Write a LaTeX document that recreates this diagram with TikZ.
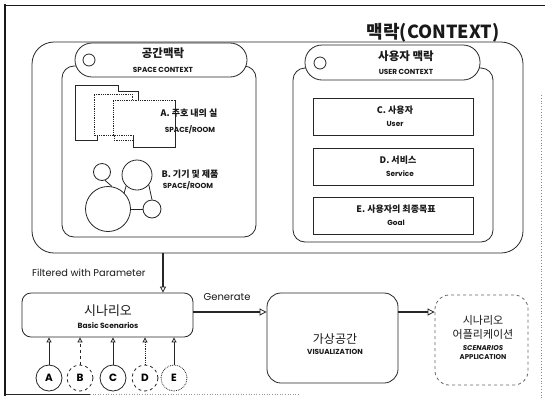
\documentclass[tikz,border=0pt]{standalone}
\usepackage{fontspec}
\setmainfont{Poppins}
\newfontfamily\kr{Noto Sans CJK KR}
\usetikzlibrary{arrows.meta}
\begin{document}
\begin{tikzpicture}[x=1pt,y=-1pt,
  ln/.style={draw=black!85, line width=0.8pt},
  rbox/.style={ln, fill=white, rounded corners=#1, inner sep=0pt},
  sqbox/.style={ln, fill=white, inner sep=0pt},
  txt/.style={inner sep=0pt, text=black!90},
  krh/.style={txt, font=\kr\bfseries\fontsize{11.5}{12}\selectfont},
  krm/.style={txt, font=\kr\bfseries\fontsize{9}{10}\selectfont},
  ensm/.style={txt, font=\bfseries\fontsize{7.3}{8}\selectfont},
  bub/.style={ln, circle, inner sep=0pt, minimum size=#1},
  lt/.style={ln, circle, inner sep=0pt, minimum size=26pt, font=\bfseries\fontsize{10.5}{12}\selectfont},
  arr/.style={ln, -{Triangle[open, length=5pt, width=5pt]}},
  bigarr/.style={draw=black!85, line width=1.6pt, -{Triangle[open, length=7pt, width=7pt, line width=0.8pt]}}
]
\useasboundingbox (0,0) rectangle (545,405);
\fill[white] (0,0) rectangle (545,405);

% frame
\draw[line width=2.2pt, black!90] (5,4) -- (5,396);
\draw[line width=1pt, black!90] (4,5) -- (545,5);
\draw[line width=1pt, black!85] (5,394) -- (90,394);
\draw[line width=0.6pt, black!40, dotted] (90,394) -- (300,394);
\draw[line width=0.8pt, black!45, dotted] (541,95) -- (541,400);

% title
\node[txt, font=\kr\bfseries\fontsize{18}{20}\selectfont] (title) at (433,33) {맥락(CONTEXT)};

% big context box
\node[rbox=22, minimum width=491, minimum height=211] (ctx) at (277.5,147.5) {};

% space context
\node[rbox=12, minimum width=194, minimum height=171] (sbox) at (159,151.5) {};
\node[rbox=17, minimum width=172, minimum height=34] (spill) at (161,60) {};
\node[bub=12] (scirc) at (89,60) {};
\node[krh] (stitle) at (163,53) {공간맥락};
\node[ensm] (ssub) at (163,70) {SPACE CONTEXT};

% user context
\node[rbox=12, minimum width=200, minimum height=174] (ubox) at (393,155) {};
\node[rbox=17, minimum width=175, minimum height=35] (upill) at (392.5,62.5) {};
\node[bub=12] (ucirc) at (320,63) {};
\node[krh] (utitle) at (406,56) {사용자 맥락};
\node[ensm] (usub) at (406,72) {USER CONTEXT};

% rooms
\draw[ln, fill=white] (75,85) -- (118,85) -- (118,91) -- (138,91) -- (138,133) -- (97,133) -- (97,140) -- (75,140) -- cycle;
\draw[ln, densely dotted, fill=white] (94,94) -- (132,94) -- (132,100) -- (156,100) -- (156,140) -- (114,140) -- (114,135) -- (94,135) -- cycle;
\draw[ln, densely dotted, fill=white] (113,100) -- (175,100) -- (175,147) -- (133,147) -- (133,135) -- (113,135) -- cycle;
\draw[ln] (175,100) -- (175,147) -- (133,147) -- (133,135);
\node[krm] (la) at (189,113) {A. 주호 내의 실};
\node[ensm] (lar) at (190,130) {SPACE/ROOM};

% bubbles
\node[bub=17] (b1) at (102,172) {};
\node[bub=30] (b2) at (137,175) {};
\node[bub=45] (b3) at (108,209) {};
\node[bub=18] (b4) at (152,209) {};
\draw[ln] (b1.-70) -- (b3.80);
\draw[ln] (b2.-135) -- (b3.45);
\draw[ln] (b2.-40) -- (b4.north);
\draw[ln] (b3.east) -- (b4.west);
\node[krm] (lb) at (190,174) {B. 기기 및 제품};
\node[ensm] (lbr) at (188,186) {SPACE/ROOM};

% user items
\node[sqbox, minimum width=160, minimum height=37] (cb) at (393,116.5) {};
\node[krm] at (395,110) {C. 사용자};
\node[ensm] at (395,124) {User};
\node[sqbox, minimum width=160, minimum height=37] (db) at (393,166.5) {};
\node[krm] at (398,160) {D. 서비스};
\node[ensm] at (400,174) {Service};
\node[sqbox, minimum width=160, minimum height=37] (eb) at (393,215.5) {};
\node[krm] at (396,209) {E. 사용자의 최종목표};
\node[ensm] at (396,223) {Goal};

% lower section
\node[rbox=9, minimum width=171, minimum height=44] (scen) at (107.5,315) {};
\node[txt, font=\kr\fontsize{13}{14}\selectfont] at (108,311) {시나리오};
\node[txt, font=\bfseries\fontsize{7.5}{8}\selectfont] at (108,326) {Basic Scenarios};

\node[rbox=14, minimum width=131, minimum height=90] (virt) at (332.5,338) {};
\node[txt, font=\kr\fontsize{12}{13}\selectfont] at (335,339) {가상공간};
\node[txt, font=\bfseries\fontsize{7.3}{8}\selectfont] at (335,352) {VISUALIZATION};

\node[rbox=14, dashed, draw=black!60, minimum width=93, minimum height=90] (app) at (481.5,340) {};
\node[txt, font=\kr\fontsize{11}{12}\selectfont] at (483,320) {시나리오};
\node[txt, font=\kr\fontsize{11}{12}\selectfont] at (483,334) {어플리케이션};
\node[txt, font=\bfseries\itshape\fontsize{7}{8}\selectfont] at (483,348) {SCENARIOS};
\node[txt, font=\bfseries\fontsize{7}{8}\selectfont] at (483,357) {APPLICATION};

% filtered arrow
\coordinate (f1) at (163,253);
\draw[ln, line width=1.2pt, -{Triangle[open, length=6pt, width=6pt, line width=0.8pt]}] (f1) -- (f1 |- scen.north);
\node[txt, font=\fontsize{9.8}{11}\selectfont, anchor=west] (flab) at (32,273) {Filtered with Parameter};

% generate arrows
\coordinate (g1) at (193,312);
\draw[bigarr] (g1) -- (g1 -| virt.west);
\node[txt, font=\fontsize{10}{11}\selectfont] (glab) at (227,297) {Generate};
\draw[bigarr] (g1 -| virt.east) -- (g1 -| app.west);

% A-E
\node[lt] (A) at (49,378) {A};
\node[lt, dashed] (B) at (80,378) {B};
\node[lt] (C) at (113,378) {C};
\node[lt, dashed] (D) at (145,378) {D};
\node[lt, densely dotted] (E) at (174,378) {E};
\draw[arr] (A) -- (A |- scen.south);
\draw[arr, dashed] (B) -- (B |- scen.south);
\draw[arr] (C) -- (C |- scen.south);
\draw[arr, densely dotted] (D) -- (D |- scen.south);
\draw[arr] (E) -- (E |- scen.south);
\end{tikzpicture}
\end{document}
